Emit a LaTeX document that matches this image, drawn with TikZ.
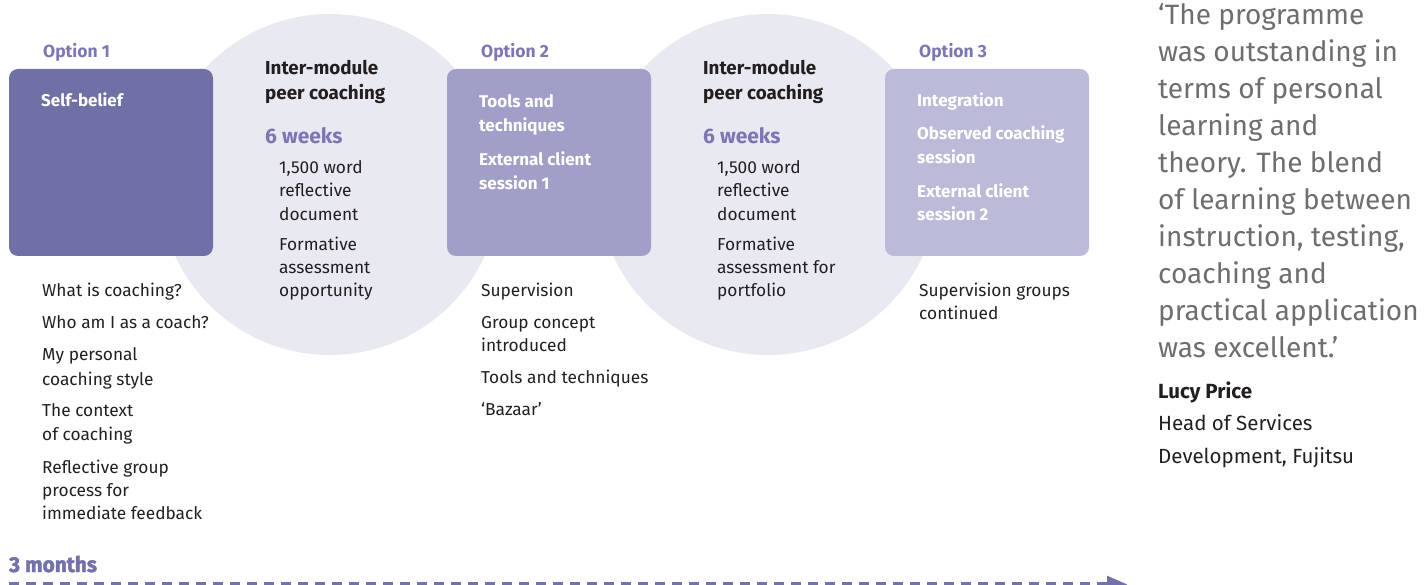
\documentclass[tikz,border=0pt]{standalone}
\usepackage{fontspec}
\setmainfont{Fira Sans}
\newfontfamily\heavyfont[FakeStretch=0.97,BoldFeatures={FakeBold=2}]{Fira Sans}
\usetikzlibrary{arrows.meta}
\definecolor{boxA}{HTML}{7170A6}
\definecolor{boxB}{HTML}{A09FC7}
\definecolor{boxC}{HTML}{BBBAD9}
\definecolor{circ}{HTML}{E9E9F1}
\definecolor{purp}{HTML}{7B77B5}
\definecolor{timeline}{HTML}{7371AB}
\definecolor{quotegrey}{HTML}{6D6E70}
\definecolor{ink}{HTML}{231F20}
\tikzset{
  x=1pt,y=-1pt,
  every node/.style={inner sep=0pt,anchor=base west},
  optbox/.style={rounded corners=9pt},
  optlabel/.style={font=\fontsize{17.5}{17.5}\selectfont\bfseries,text=purp},
  boxtext/.style={font=\fontsize{17}{17}\selectfont\bfseries,text=white},
  headtext/.style={font=\fontsize{18.8}{18.8}\selectfont\bfseries,text=ink},
  weekstext/.style={font=\fontsize{21}{21}\selectfont\bfseries,text=purp},
  bodytext/.style={font=\fontsize{17.3}{17.3}\selectfont,text=ink},
  quotetext/.style={font=\fontsize{28}{28}\selectfont,text=quotegrey},
  whotext/.style={font=\fontsize{20.5}{20.5}\selectfont,text=ink},
  whoname/.style={font=\fontsize{20.5}{20.5}\selectfont\bfseries,text=ink},
  timelabel/.style={font=\heavyfont\fontsize{21.5}{21.5}\selectfont\bfseries,text=timeline},
}
\begin{document}
\begin{tikzpicture}
\useasboundingbox (0,0) rectangle (1428,585);
% circles
\fill[circ] (330,184.5) circle (170.5);
\fill[circ] (768,184.5) circle (170.5);
% boxes
\fill[boxA,optbox] (9,69) rectangle (213,256);
\fill[boxB,optbox] (447,69) rectangle (651,256);
\fill[boxC,optbox] (885,69) rectangle (1089,256);
% option labels
\node[optlabel] (o1) at (43,58) {Option 1};
\node[optlabel] (o2) at (481,58) {Option 2};
\node[optlabel] (o3) at (919,58) {Option 3};
% box texts
\node[boxtext] (b1a) at (41,107) {Self-belief};
\node[boxtext] (b2a) at (479,108) {Tools and};
\node[boxtext] (b2b) at (479,132) {techniques};
\node[boxtext] (b2c) at (479,166) {External client};
\node[boxtext] (b2d) at (479,190) {session 1};
\node[boxtext] (b3a) at (917,107) {Integration};
\node[boxtext] (b3b) at (917,140) {Observed coaching};
\node[boxtext] (b3c) at (917,164) {session};
\node[boxtext] (b3d) at (917,198) {External client};
\node[boxtext] (b3e) at (917,221) {session 2};
% circle 1 texts
\node[headtext] (c1a) at (265,75) {Inter-module};
\node[headtext] (c1b) at (265,100) {peer coaching};
\node[weekstext] (c1w) at (265,144) {6 weeks};
\node[bodytext] (c1c) at (279,174) {1,500 word};
\node[bodytext] (c1d) at (279,197) {reflective};
\node[bodytext] (c1e) at (279,221) {document};
\node[bodytext] (c1f) at (279,251) {Formative};
\node[bodytext] (c1g) at (279,274) {assessment};
\node[bodytext] (c1h) at (279,297) {opportunity};
% circle 2 texts
\node[headtext] (c2a) at (703,75) {Inter-module};
\node[headtext] (c2b) at (703,100) {peer coaching};
\node[weekstext] (c2w) at (703,144) {6 weeks};
\node[bodytext] (c2c) at (717,174) {1,500 word};
\node[bodytext] (c2d) at (717,197) {reflective};
\node[bodytext] (c2e) at (717,221) {document};
\node[bodytext] (c2f) at (717,251) {Formative};
\node[bodytext] (c2g) at (717,274) {assessment for};
\node[bodytext] (c2h) at (717,297) {portfolio};
% below box 1
\node[bodytext] (u1a) at (42,297) {What is coaching?};
\node[bodytext] (u1b) at (42,329) {Who am I as a coach?};
\node[bodytext] (u1c) at (42,361) {My personal};
\node[bodytext] (u1d) at (42,385) {coaching style};
\node[bodytext] (u1e) at (42,417) {The context};
\node[bodytext] (u1f) at (42,440) {of coaching};
\node[bodytext] (u1g) at (42,473) {Reflective group};
\node[bodytext] (u1h) at (42,496) {process for};
\node[bodytext] (u1i) at (42,519) {immediate feedback};
% below box 2
\node[bodytext] (u2a) at (481,297) {Supervision};
\node[bodytext] (u2b) at (481,329) {Group concept};
\node[bodytext] (u2c) at (481,352) {introduced};
\node[bodytext] (u2d) at (481,384) {Tools and techniques};
\node[bodytext] (u2e) at (481,416) {‘Bazaar’};
% below box 3
\node[bodytext] (u3a) at (919,297) {Supervision groups};
\node[bodytext] (u3b) at (919,320) {continued};
% quote
\node[quotetext] (q1) at (1158,24.5) {‘The programme};
\node[quotetext] (q2) at (1158,61.5) {was outstanding in};
\node[quotetext] (q3) at (1158,98.5) {terms of personal};
\node[quotetext] (q4) at (1158,135.5) {learning and};
\node[quotetext] (q5) at (1158,172.5) {theory. The blend};
\node[quotetext] (q6) at (1158,209.5) {of learning between};
\node[quotetext] (q7) at (1158,246.5) {instruction, testing,};
\node[quotetext] (q8) at (1158,283.5) {coaching and};
\node[quotetext] (q9) at (1158,320.5) {practical application};
\node[quotetext] (q10) at (1158,357.5) {was excellent.’};
\node[whoname] (w1) at (1158,399) {Lucy Price};
\node[whotext] (w2) at (1158,431) {Head of Services};
\node[whotext] (w3) at (1158,463) {Development, Fujitsu};
% timeline
\node[timelabel] (tm) at (9,572) {3 months};
\coordinate (ts) at (9,584.5);
\coordinate (te) at (1128,584.5);
\draw[timeline,line width=5pt,dash pattern=on 10pt off 7pt,-{Triangle[length=21pt,width=16pt,sep=0pt]}] (ts) -- (te);
\end{tikzpicture}
\end{document}
